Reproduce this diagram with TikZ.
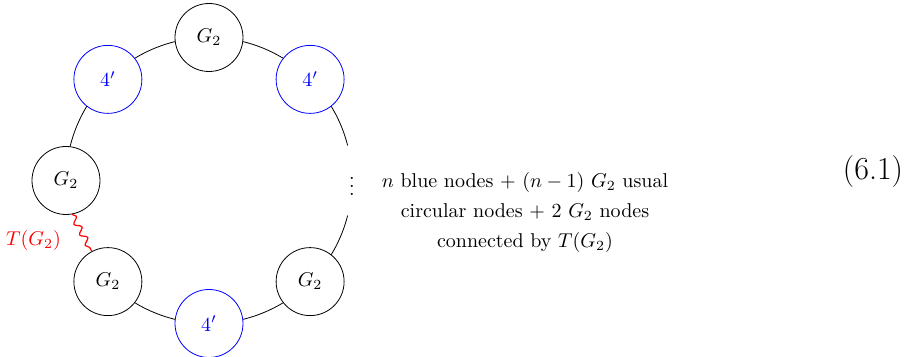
\documentclass[tikz,border=0pt]{standalone}
\usetikzlibrary{decorations.pathmorphing,backgrounds}
\begin{document}
\begin{tikzpicture}[x=1pt,y=1pt,
  gnode/.style={circle,draw=black,minimum size=34pt,inner sep=0pt,fill=white,font=\fontsize{10}{12}\selectfont},
  bnode/.style={gnode,draw=blue,text=blue},
  conn/.style={draw=black},
  wavy/.style={draw=red,semithick,decorate,decoration={snake,amplitude=1.5pt,segment length=6pt}}]
\useasboundingbox (-104.5,-88.25) rectangle (354.5,90.25);
\def\R{71.5}
\node[gnode] (n90)  at (90:\R)  {$G_2$};
\node[bnode] (n45)  at (45:\R)  {$4'$};
\node[gnode] (n315) at (-45:\R) {$G_2$};
\node[bnode] (n270) at (-90:\R) {$4'$};
\node[gnode] (n225) at (-135:\R) {$G_2$};
\node[gnode] (n180) at (180:\R) {$G_2$};
\node[bnode] (n135) at (135:\R) {$4'$};
\coordinate (e1) at (14.2:\R);
\coordinate (e2) at (-14.2:\R);
\node[inner sep=0pt,font=\fontsize{10}{12}\selectfont] (dots) at (0:\R) {$\vdots$};
\begin{pgfonlayer}{background}
\draw[conn] (n90.center) to[bend left=22.5,looseness=0.885] (n45.center);
\draw[conn] (n45.center) to[bend left=15.4,looseness=0.867] (e1);
\draw[conn] (e2) to[bend left=15.4,looseness=0.867] (n315.center);
\draw[conn] (n315.center) to[bend left=22.5,looseness=0.885] (n270.center);
\draw[conn] (n270.center) to[bend left=22.5,looseness=0.885] (n225.center);
\draw[conn] (n180.center) to[bend left=22.5,looseness=0.885] (n135.center);
\draw[conn] (n135.center) to[bend left=22.5,looseness=0.885] (n90.center);
\end{pgfonlayer}
\draw[wavy] (n180.-80) -- (n225.118);
\node[text=red,font=\fontsize{10}{12}\selectfont] (tlab) at (-87.75,-30.25) {$T(G_2)$};
\node[align=center,font=\fontsize{10}{15}\selectfont] (txt) at (158,-16)
  {$n$ blue nodes $+$ $(n-1)$ $G_2$ usual\\ circular nodes $+$ $2$ $G_2$ nodes\\ connected by $T(G_2)$};
\node[font=\fontsize{16}{19}\selectfont] (eq) at (332,4.4) {(6.1)};
\end{tikzpicture}
\end{document}
